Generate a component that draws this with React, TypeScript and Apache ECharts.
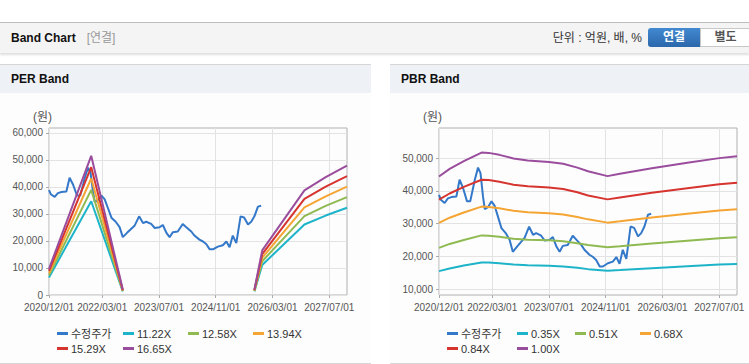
import React, { useEffect, useRef } from 'react';
import * as echarts from 'echarts';

// x axis: months since 2020/12/01
const tickMonths = [0, 15, 31, 47, 63, 79];
const tickLabels = ['2020/12/01', '2022/03/01', '2023/07/01', '2024/11/01', '2026/03/01', '2027/07/01'];
const xMax = 84;

const perTicks = [0, 10000, 20000, 30000, 40000, 50000, 60000];
const pbrTicks = [10000, 20000, 30000, 40000, 50000];

// 수정주가 (adjusted price)
const priceMonths = [0, 0.5, 1.6, 2.5, 3.5, 4.9, 5.8, 6.8, 7.9, 8.8, 10.1, 11, 11.7, 12.4, 12.9, 13.8, 14.8, 15.7, 16.6, 17.6, 18.8, 19.9, 20.8, 22, 23.2, 24.1, 25.4, 26.5, 27.4, 28.8, 29.8, 31.2, 32.1, 33.1, 34, 34.9, 36.3, 37.7, 38.7, 40.1, 41, 42.4, 43.4, 44.3, 45.3, 46.2, 47.6, 49, 50, 50.9, 51.8, 52.8, 54, 55, 56.1, 57, 57.9, 58.9, 59.8];
const priceValues = [38800, 37300, 36300, 37700, 38100, 38300, 43400, 40800, 36800, 36800, 43400, 47100, 45400, 38300, 34400, 35000, 36800, 35400, 32200, 28600, 27100, 25100, 21400, 23000, 24500, 25600, 29100, 26600, 27100, 26300, 24800, 25100, 25900, 23000, 21400, 23200, 23500, 26300, 25100, 23500, 22000, 20500, 19800, 18900, 16900, 16900, 17900, 18400, 19800, 17700, 22000, 19200, 29100, 28700, 26100, 27100, 29100, 32700, 33000];

// PER band
const perMonths = [0, 11.9, 20.8, 40, 57.9, 60.1, 72, 78, 84];
const per1122 = [6500, 34700, 1350, null, 1350, 11100, 26100, 29400, 32300];
const per1258 = [7300, 38900, 1500, null, 1500, 12500, 29200, 33000, 36200];
const per1394 = [8100, 43100, 1700, null, 1700, 13800, 32400, 36500, 40100];
const per1529 = [8900, 47300, 1800, null, 1800, 15100, 35600, 40100, 44000];
const per1665 = [9700, 51500, 2000, null, 2000, 16500, 38700, 43600, 47900];

// PBR band
const pbrMonths = [0, 3, 7, 12, 14, 17, 21, 25, 31, 35, 39, 42, 47.5, 51, 60, 70, 79, 84];
const pbr035 = [15500, 16300, 17200, 18100, 18100, 17900, 17500, 17300, 17100, 16900, 16500, 16100, 15600, 15800, 16400, 17000, 17500, 17700];
const pbr051 = [22600, 23800, 25000, 26400, 26300, 26000, 25400, 25100, 24900, 24600, 24000, 23500, 22800, 23100, 23900, 24800, 25500, 25800];
const pbr068 = [30200, 31800, 33400, 35200, 35100, 34700, 33900, 33500, 33200, 32800, 32000, 31300, 30300, 30700, 31900, 33000, 34000, 34400];
const pbr084 = [37300, 39200, 41200, 43400, 43300, 42800, 41900, 41400, 41000, 40600, 39600, 38600, 37400, 38000, 39400, 40800, 42000, 42500];
const pbr100 = [44400, 46700, 49100, 51700, 51600, 51000, 49900, 49300, 48800, 48300, 47100, 46000, 44500, 45200, 46900, 48600, 50000, 50600];

const perNames = ['11.22X', '12.58X', '13.94X', '15.29X', '16.65X'];
const pbrNames = ['0.35X', '0.51X', '0.68X', '0.84X', '1.00X'];
const bandColors = ['#1db4c9', '#8fba52', '#f5a533', '#d6342f', '#9b4d9d'];
const priceColor = '#3478c9';

const FONT = '"Liberation Sans", Arial, "Noto Sans CJK KR", sans-serif';

function pairs(xs: number[], ys: (number | null)[]) {
  return xs.map((x, i) => [x, ys[i] === null ? '-' : ys[i]]);
}

function fmtNum(v: number) {
  return v.toLocaleString('en-US');
}

export default function App() {
  const ref = useRef<HTMLDivElement>(null);

  useEffect(() => {
    if (!ref.current) return;
    const chart = echarts.init(ref.current, undefined, { renderer: 'svg' });

    const gridDefs = [
      { left: 49, top: 128, width: 298, height: 167 },
      { left: 439, top: 128, width: 298, height: 167 },
    ];

    const xAxisBase = (gridIndex: number) => ({
      type: 'value',
      gridIndex,
      min: 0,
      max: xMax,
      axisLine: { show: false },
      axisTick: { show: true, length: 3, lineStyle: { color: '#aaa' }, customValues: tickMonths },
      axisLabel: {
        customValues: tickMonths,
        margin: 7,
        color: '#555',
        fontSize: 10,
        fontFamily: FONT,
        formatter: (v: number) => {
          const i = tickMonths.indexOf(Math.round(v));
          return i >= 0 ? tickLabels[i] : '';
        },
      },
      splitLine: { show: true, lineStyle: { color: '#e3e3e3' } },
    });

    const yAxisBase = (gridIndex: number, min: number, max: number, ticks: number[]) => ({
      type: 'value',
      gridIndex,
      min,
      max,
      axisLine: { show: false },
      axisTick: { show: true, length: 3, lineStyle: { color: '#aaa' }, customValues: ticks },
      axisLabel: {
        customValues: ticks,
        margin: 6,
        color: '#555',
        fontSize: 10,
        fontFamily: FONT,
        formatter: (v: number) => fmtNum(v),
      },
      splitLine: { show: true, lineStyle: { color: '#e3e3e3' } },
    });

    const lineSeries = (name: string, data: any[], color: string, idx: number) => ({
      type: 'line',
      name,
      xAxisIndex: idx,
      yAxisIndex: idx,
      data,
      showSymbol: false,
      connectNulls: false,
      color,
      lineStyle: { width: 2, color },
    });

    const perBands = [per1122, per1258, per1394, per1529, per1665];
    const pbrBands = [pbr035, pbr051, pbr068, pbr084, pbr100];

    const series: any[] = [
      lineSeries('수정주가', pairs(priceMonths, priceValues), priceColor, 0),
      ...perBands.map((b, i) => lineSeries(perNames[i], pairs(perMonths, b), bandColors[i], 0)),
      lineSeries('수정주가', pairs(priceMonths, priceValues), priceColor, 1),
      ...pbrBands.map((b, i) => lineSeries(pbrNames[i], pairs(pbrMonths, b), bandColors[i], 1)),
    ];

    const legendItem = (name: string, left: number, top: number) => ({
      data: [name],
      left,
      top,
      icon: 'rect',
      itemWidth: 11,
      itemHeight: 3,
      selectedMode: false,
      textStyle: { fontSize: 11, color: '#333', fontFamily: FONT, padding: [0, 0, 0, -2] },
    });

    const row1 = 323;
    const row2 = 338;
    const legends = [
      legendItem('수정주가', 52, row1),
      legendItem(perNames[0], 118, row1),
      legendItem(perNames[1], 183, row1),
      legendItem(perNames[2], 248, row1),
      legendItem(perNames[3], 52, row2),
      legendItem(perNames[4], 118, row2),
      legendItem('수정주가', 442, row1),
      legendItem(pbrNames[0], 512, row1),
      legendItem(pbrNames[1], 570, row1),
      legendItem(pbrNames[2], 635, row1),
      legendItem(pbrNames[3], 442, row2),
      legendItem(pbrNames[4], 512, row2),
    ];

    chart.setOption({
      animation: false,
      grid: gridDefs.map((g) => ({ ...g, show: true, borderColor: '#b0b0b0', borderWidth: 1, containLabel: false })),
      xAxis: [xAxisBase(0), xAxisBase(1)],
      yAxis: [yAxisBase(0, 0, 61800, perTicks), yAxisBase(1, 8200, 59200, pbrTicks)],
      legend: legends,
      graphic: [
        { type: 'text', left: 33, top: 111, style: { text: '(원)', fill: '#555', fontSize: 12, fontFamily: FONT } },
        { type: 'text', left: 423, top: 111, style: { text: '(원)', fill: '#555', fontSize: 12, fontFamily: FONT } },
      ],
      series,
    });

    return () => chart.dispose();
  }, []);

  const headerText: React.CSSProperties = {
    position: 'absolute',
    fontWeight: 'bold',
    fontSize: 12,
    color: '#111',
  };

  return (
    <div
      style={{
        position: 'absolute',
        left: 0,
        top: 0,
        width: 749,
        height: 364,
        background: '#fff',
        overflow: 'hidden',
        fontFamily: FONT,
      }}
    >
      {/* top header */}
      <div
        style={{
          position: 'absolute',
          left: 0,
          top: 22,
          width: 749,
          height: 30,
          background: '#f4f4f4',
          borderTop: '1px solid #bdbdbd',
          boxShadow: '0 2px 2px rgba(0,0,0,0.13)',
        }}
      >
        <div style={{ ...headerText, left: 11, top: 0, lineHeight: '30px' }}>
          Band Chart
          <span style={{ fontWeight: 'normal', color: '#999', marginLeft: 11 }}>[연결]</span>
        </div>
        <div style={{ position: 'absolute', right: 107, top: 0, lineHeight: '30px', fontSize: 12, color: '#333' }}>
          단위 : 억원, 배, %
        </div>
        <div
          style={{
            position: 'absolute',
            left: 648,
            top: 5,
            width: 52,
            height: 19,
            borderRadius: '3px 0 0 3px',
            background: 'linear-gradient(#4289d1, #2b67ab)',
            color: '#fff',
            fontWeight: 'bold',
            fontSize: 12,
            lineHeight: '19px',
            textAlign: 'center',
          }}
        >
          연결
        </div>
        <div
          style={{
            position: 'absolute',
            left: 700,
            top: 5,
            width: 55,
            height: 17,
            border: '1px solid #c8c8c8',
            background: '#fff',
            color: '#555',
            fontWeight: 'bold',
            fontSize: 12,
            lineHeight: '17px',
            textAlign: 'center',
            textIndent: -6,
          }}
        >
          별도
        </div>
      </div>

      {/* PER panel */}
      <div
        style={{
          position: 'absolute',
          left: 0,
          top: 64,
          width: 371,
          height: 298,
          borderTop: '1px solid #d6d6d6',
          borderBottom: '1px solid #d6d6d6',
          background: '#fdfdfd',
        }}
      >
        <div style={{ position: 'absolute', left: 0, top: 0, width: 371, height: 28, background: '#eef1f6' }} />
        <div style={{ ...headerText, left: 11, top: 0, lineHeight: '28px' }}>PER Band</div>
      </div>

      {/* PBR panel */}
      <div
        style={{
          position: 'absolute',
          left: 390,
          top: 64,
          width: 359,
          height: 298,
          borderTop: '1px solid #d6d6d6',
          borderBottom: '1px solid #d6d6d6',
          background: '#fdfdfd',
        }}
      >
        <div style={{ position: 'absolute', left: 0, top: 0, width: 359, height: 28, background: '#eef1f6' }} />
        <div style={{ ...headerText, left: 11, top: 0, lineHeight: '28px' }}>PBR Band</div>
      </div>

      <div ref={ref} style={{ position: 'absolute', left: 0, top: 0, width: 749, height: 364 }} />
    </div>
  );
}
